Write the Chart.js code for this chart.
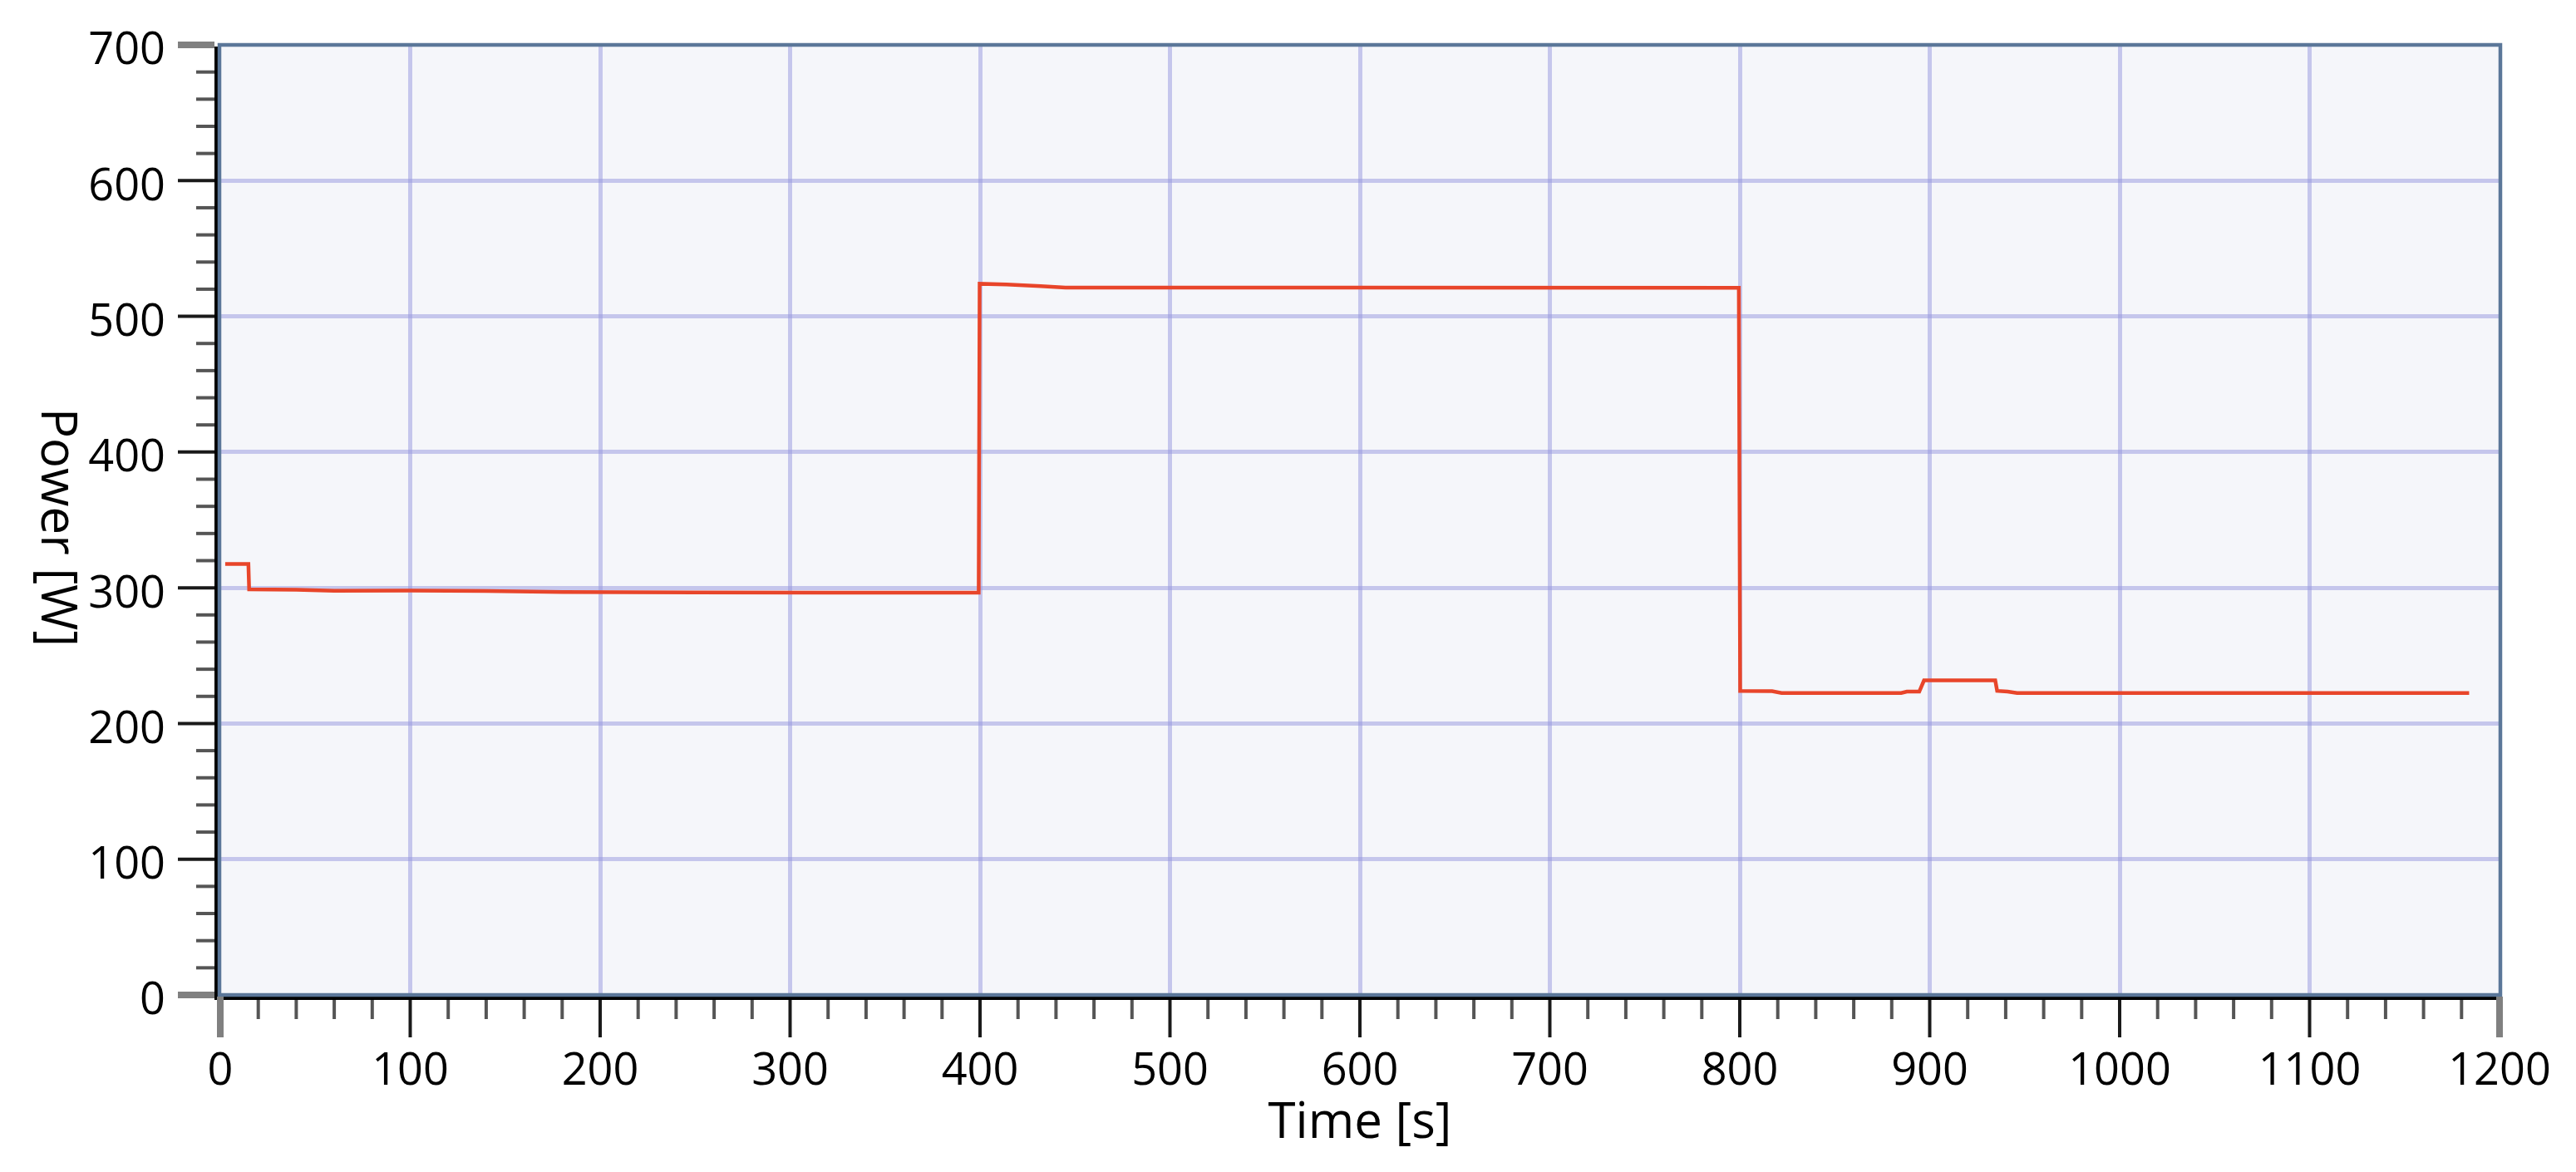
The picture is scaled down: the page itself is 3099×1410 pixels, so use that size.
<!DOCTYPE html>
<html>
<head>
<meta charset="utf-8">
<script src="https://cdn.jsdelivr.net/npm/chart.js@4.4.1/dist/chart.umd.min.js"></script>
<style>
  html, body { margin: 0; padding: 0; background: #fff; }
  canvas { display: block; }
</style>
</head>
<body>
<canvas id="myChart" width="3099" height="1410"></canvas>
<script>
// trace (time in s, power in W)
const timeS = [2.6, 14.8, 15.2, 40, 60, 100, 140, 180, 250, 320, 399.3, 399.8, 414, 432, 445, 600, 799.5, 800.2, 817, 822, 885, 888, 894.5, 897, 934.5, 935.5, 941, 946, 1184];
const powerW = [317.5, 317.5, 298.8, 298.5, 297.8, 298, 297.6, 296.8, 296.5, 296.4, 296.4, 524, 523.5, 522.2, 521.2, 521.2, 521, 224, 223.8, 222.5, 222.5, 223.5, 223.5, 231.8, 231.8, 224, 223.5, 222.5, 222.5];

// axes
const xRange = [0, 1200];
const yRange = [0, 700];
const majorStep = 100;
const minorStep = 20;
const xTitle = "Time [s]";
const yTitle = "Power [W]";

const lineColor = "#e8452a";
const gridColor = "rgba(150, 150, 222, 0.5)";
const frameColor = "#5b7799";
const fontFamily = "'Open Sans', 'Noto Sans', sans-serif";

const points = timeS.map((t, i) => ({ x: t, y: powerW[i] }));

// grid only on the inner major ticks
const innerGrid = (max) => (c) =>
  c.tick && c.tick.value > 0 && c.tick.value < max ? gridColor : "rgba(0,0,0,0)";

// fixed box for a scale, no overhang padding for the end labels
function fixBox(size, horizontal) {
  return (scale) => {
    if (horizontal) scale.height = size;
    else scale.width = size;
    scale.paddingTop = 0;
    scale.paddingBottom = 0;
    scale.paddingLeft = 0;
    scale.paddingRight = 0;
  };
}

// background, frame, tick marks and the rotated y title
const frame = {
  id: "frame",
  beforeDraw(chart) {
    const { ctx, chartArea: a } = chart;
    ctx.save();
    ctx.fillStyle = "#f5f6fa";
    ctx.fillRect(a.left, a.top, a.right - a.left, a.bottom - a.top);
    ctx.restore();
  },
  afterDraw(chart) {
    const { ctx, chartArea: a, scales } = chart;
    const x = scales.x;
    const y = scales.y;
    ctx.save();

    // black axis lines outside the frame
    ctx.fillStyle = "#000";
    ctx.fillRect(a.left - 7, a.top + 2, 4, a.bottom - a.top + 4);
    ctx.fillRect(a.left - 7, a.bottom + 2, a.right - a.left + 6, 4);

    // frame
    ctx.strokeStyle = frameColor;
    ctx.lineWidth = 4.5;
    ctx.strokeRect(a.left - 1, a.top, a.right - a.left + 2, a.bottom - a.top);

    // y tick marks
    for (let v = yRange[0]; v <= yRange[1]; v += minorStep) {
      const py = y.getPixelForValue(v);
      const major = v % majorStep === 0;
      const end = v === yRange[0] || v === yRange[1];
      ctx.beginPath();
      ctx.strokeStyle = end ? "#808080" : major ? "#1a1a1a" : "#555";
      ctx.lineWidth = end ? 8 : 4;
      ctx.moveTo(major ? a.left - 51 : a.left - 29, py);
      ctx.lineTo(a.left - 7, py);
      ctx.stroke();
    }

    // x tick marks
    for (let v = xRange[0]; v <= xRange[1]; v += minorStep) {
      const px = x.getPixelForValue(v);
      const major = v % majorStep === 0;
      const end = v === xRange[0] || v === xRange[1];
      ctx.beginPath();
      ctx.strokeStyle = end ? "#808080" : major ? "#1a1a1a" : "#555";
      ctx.lineWidth = end ? 8 : 4;
      ctx.moveTo(px, end ? a.bottom + 2 : a.bottom + 6);
      ctx.lineTo(px, major ? a.bottom + 51 : a.bottom + 29);
      ctx.stroke();
    }

    // y title, reads top to bottom
    ctx.translate(50, (a.top + a.bottom) / 2 + 9);
    ctx.rotate(Math.PI / 2);
    ctx.fillStyle = "#000";
    ctx.font = "60px " + fontFamily;
    ctx.textAlign = "center";
    ctx.textBaseline = "alphabetic";
    ctx.fillText(yTitle, 0, 0);
    ctx.restore();
  },
};

const ctx = document.getElementById("myChart").getContext("2d");
const myChart = new Chart(ctx, {
  type: "line",
  data: {
    datasets: [
      {
        label: yTitle,
        data: points,
        borderColor: lineColor,
        borderWidth: 4.5,
        pointRadius: 0,
        tension: 0,
        fill: false,
      },
    ],
  },
  options: {
    responsive: false,
    animation: false,
    devicePixelRatio: 1,
    layout: {
      padding: { top: 54, right: 92, left: 0, bottom: 0 },
    },
    plugins: {
      legend: { display: false },
      tooltip: { enabled: false },
    },
    scales: {
      x: {
        type: "linear",
        min: xRange[0],
        max: xRange[1],
        afterFit: fixBox(213, true),
        ticks: {
          stepSize: majorStep,
          autoSkip: false,
          maxRotation: 0,
          padding: 60,
          color: "#000",
          font: { family: fontFamily, size: 54 },
          callback: (v) => String(v),
        },
        grid: {
          drawTicks: false,
          color: innerGrid(xRange[1]),
          lineWidth: 5,
        },
        border: { display: false },
        title: {
          display: true,
          text: xTitle,
          color: "#000",
          font: { family: fontFamily, size: 60 },
          padding: { top: 0, bottom: 22 },
        },
      },
      y: {
        type: "linear",
        min: yRange[0],
        max: yRange[1],
        afterFit: fixBox(265, false),
        ticks: {
          stepSize: majorStep,
          autoSkip: false,
          padding: 66,
          color: "#000",
          // empty first line pushes the number a few px below its tick
          font: { family: fontFamily, size: 54, lineHeight: "16px" },
          callback: (v) => ["", String(v)],
        },
        grid: {
          drawTicks: false,
          color: innerGrid(yRange[1]),
          lineWidth: 5,
        },
        border: { display: false },
      },
    },
  },
  plugins: [frame],
});
</script>
</body>
</html>
